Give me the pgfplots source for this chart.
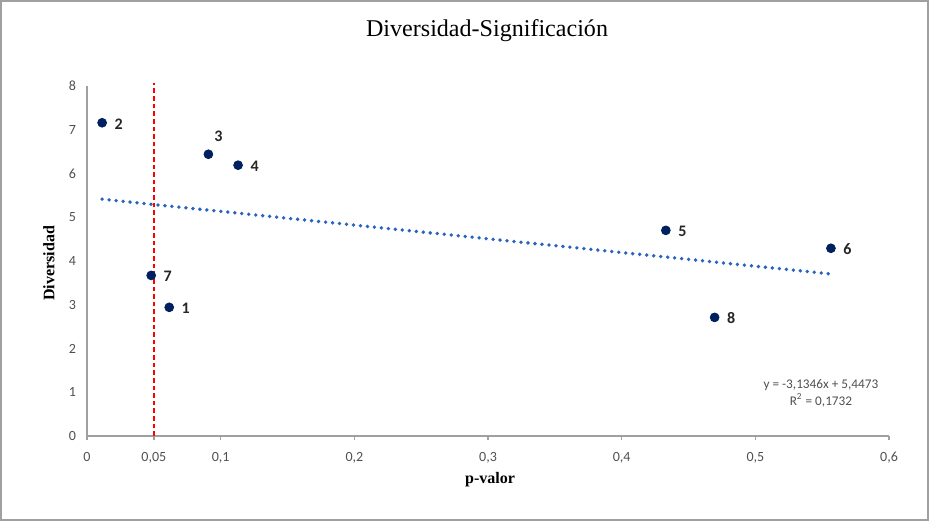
\documentclass[border=0pt]{standalone}
\usepackage{pgfplots}
\pgfplotsset{compat=1.18}
\usepackage{pgfplotstable}
\usepackage{fontspec}
\setmainfont{Liberation Serif}
\newfontfamily\calfont{Carlito}
\definecolor{ptblue}{RGB}{0,32,96}
\definecolor{trendblue}{RGB}{40,100,190}
\definecolor{axgray}{RGB}{160,160,160}
\definecolor{ticktext}{RGB}{80,80,80}
\tikzset{lbl/.style={inner sep=1pt, font=\calfont\bfseries\fontsize{8}{9}\selectfont, text=black!85}}
\pgfplotstableread{
x y lab
0.0615 2.94 1
0.0113 7.16 2
0.113 6.19 4
0.433 4.70 5
0.5565 4.29 6
0.048 3.67 7
0.4695 2.71 8
}\pts
\pgfplotstableread{
x y lab
0.0908 6.44 3
}\ptsb
\pgfplotstableread{
x y
0.0113 5.412
0.5565 3.703
}\trend
\pgfplotstableread{
x y
0.05 0
0.05 8.07
}\sig
\begin{document}
\begin{tikzpicture}
\begin{axis}[
  at={(0,0)}, anchor=origin,
  scale only axis, width=400pt, height=174.5pt,
  xmin=0, xmax=0.6, ymin=0, ymax=8,
  clip=false,
  axis x line=bottom, axis y line=left,
  axis line style={-, axgray, line width=1pt},
  xtick={0,0.05,0.1,0.2,0.3,0.4,0.5,0.6},
  xticklabels={0,{0,05},{0,1},{0,2},{0,3},{0,4},{0,5},{0,6}},
  ytick={0,1,...,8},
  /pgf/number format/assume math mode=true,
  tick label style={font=\calfont\fontsize{7}{8}\selectfont, text=ticktext},
  tick align=outside,
  major tick length=2pt,
  xtick style={axgray, line width=0.7pt},
  ytick style={draw=none},
  xticklabel style={yshift=-2.5pt},
  yticklabel style={xshift=0pt},
]
\addplot[trendblue, line width=1.9pt, line cap=round, dash pattern=on 0pt off 3.5pt] table[x=x,y=y] {\trend};
\addplot[red, line width=1pt, dash pattern=on 2.3pt off 1.5pt] table[x=x,y=y] {\sig};
\addplot[only marks, mark=*, mark size=2.2pt, mark options={ptblue, fill=ptblue},
  point meta=explicit symbolic,
  nodes near coords,
  every node near coord/.append style={lbl, anchor=west, xshift=5pt, yshift=-0.5pt}]
  table[x=x,y=y,meta=lab] {\pts};
\addplot[only marks, mark=*, mark size=2.2pt, mark options={ptblue, fill=ptblue},
  point meta=explicit symbolic,
  nodes near coords,
  every node near coord/.append style={lbl, anchor=south, xshift=5pt, yshift=5pt}]
  table[x=x,y=y,meta=lab] {\ptsb};
\end{axis}
\draw[axgray, line width=0.8pt] (-43pt,-42pt) rectangle (419.5pt,217pt);
\node[font=\fontsize{12}{14}\selectfont] at (199.5pt,202pt) {Diversidad-Significación};
\node[font=\bfseries\fontsize{8}{10}\selectfont] at (201pt,-22pt) {p-valor};
\node[font=\bfseries\fontsize{8}{10}\selectfont, rotate=90] at (-19pt,86pt) {Diversidad};
\node[font=\calfont\fontsize{6.6}{8.5}\selectfont, text=ticktext, align=center, inner sep=0pt] at (366pt,21.25pt) {y = -3,1346x + 5,4473\\ R\textsuperscript{2} = 0,1732};
\end{tikzpicture}
\end{document}
